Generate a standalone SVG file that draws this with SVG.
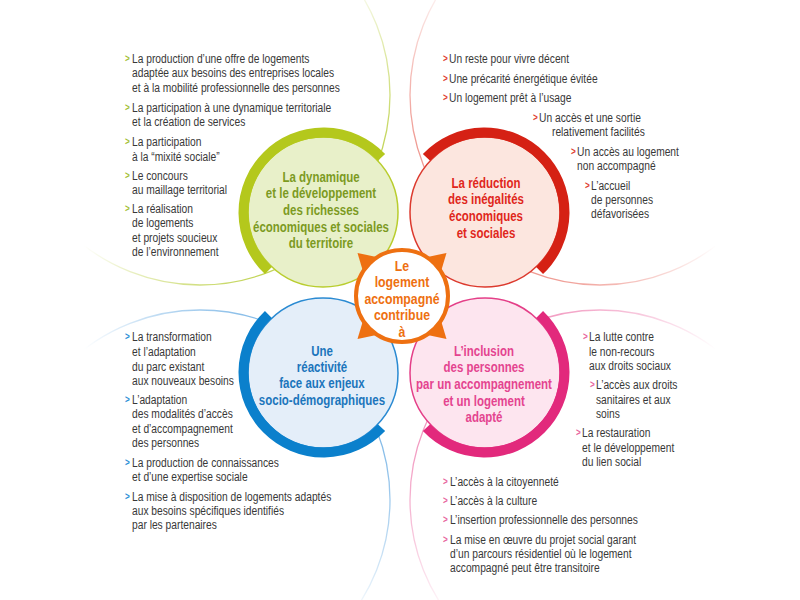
<svg xmlns="http://www.w3.org/2000/svg" width="800" height="600" viewBox="0 0 800 600">
<defs>
<style>
text{font-family:"Liberation Sans",Arial,sans-serif}
.t{font-size:12.5px;fill:#383838}
.b{font-size:10px;font-weight:bold}
.h{font-size:14px;font-weight:bold;text-anchor:middle}
.c{font-size:15px;font-weight:bold;text-anchor:middle;fill:#ee7011}
.petal{fill:none;stroke-width:1.3}
.thin{stroke-width:1.5}
.thick{fill:none;stroke-width:10}
</style>
<linearGradient id="gG" gradientUnits="userSpaceOnUse" x1="400" y1="297" x2="216" y2="113"><stop offset="0.45" stop-color="#c3d55a" stop-opacity="1"/><stop offset="1" stop-color="#c3d55a" stop-opacity="0"/></linearGradient>
<linearGradient id="gR" gradientUnits="userSpaceOnUse" x1="400" y1="297" x2="584" y2="113"><stop offset="0.45" stop-color="#ef9a92" stop-opacity="1"/><stop offset="1" stop-color="#ef9a92" stop-opacity="0"/></linearGradient>
<linearGradient id="gB" gradientUnits="userSpaceOnUse" x1="400" y1="297" x2="216" y2="481"><stop offset="0.45" stop-color="#86bce8" stop-opacity="1"/><stop offset="1" stop-color="#86bce8" stop-opacity="0"/></linearGradient>
<linearGradient id="gP" gradientUnits="userSpaceOnUse" x1="400" y1="297" x2="584" y2="481"><stop offset="0.45" stop-color="#f29cc2" stop-opacity="1"/><stop offset="1" stop-color="#f29cc2" stop-opacity="0"/></linearGradient>
</defs>
<rect width="800" height="600" fill="#ffffff"/>

<g id="petals">
<circle class="petal" cx="200" cy="95" r="190" stroke="url(#gG)"/>
<circle class="petal" cx="600" cy="95" r="190" stroke="url(#gR)"/>
<circle class="petal" cx="200" cy="500" r="190" stroke="url(#gB)"/>
<circle class="petal" cx="600" cy="500" r="190" stroke="url(#gP)"/>
</g>

<g id="green">
<circle cx="323" cy="212" r="75" fill="#e8f0c9" stroke="#b9cd2e" class="thin"/>
<path class="thick" stroke="#b4c81c" d="M268.4 270.5 A80 80 0 1 1 381.5 157.4"/>
<g transform="scale(0.82,1)">
<g fill="#7c9a1f">
<text class="h" x="391.46" y="182">La dynamique</text>
<text class="h" x="391.46" y="198">et le développement</text>
<text class="h" x="391.46" y="215">des richesses</text>
<text class="h" x="391.46" y="232">économiques et sociales</text>
<text class="h" x="391.46" y="248">du territoire</text>
</g>
<g fill="#a3bf35">
<text class="b" x="152.44" y="62">&gt;</text>
<text class="b" x="152.44" y="111">&gt;</text>
<text class="b" x="152.44" y="145">&gt;</text>
<text class="b" x="152.44" y="179">&gt;</text>
<text class="b" x="152.44" y="212">&gt;</text>
</g>
<text class="t" x="160.98" y="63">La production d’une offre de logements</text>
<text class="t" x="160.98" y="77">adaptée aux besoins des entreprises locales</text>
<text class="t" x="160.98" y="92">et à la mobilité professionnelle des personnes</text>
<text class="t" x="160.98" y="112">La participation à une dynamique territoriale</text>
<text class="t" x="160.98" y="126">et la création de services</text>
<text class="t" x="160.98" y="146">La participation</text>
<text class="t" x="160.98" y="161">à la “mixité sociale”</text>
<text class="t" x="160.98" y="180">Le concours</text>
<text class="t" x="160.98" y="194">au maillage territorial</text>
<text class="t" x="160.98" y="213">La réalisation</text>
<text class="t" x="160.98" y="227">de logements</text>
<text class="t" x="160.98" y="242">et projets soucieux</text>
<text class="t" x="160.98" y="256">de l’environnement</text>
</g>
</g>

<g id="red">
<circle cx="485" cy="212" r="75" fill="#fce6df" stroke="#dc3a2e" class="thin"/>
<path class="thick" stroke="#d52114" d="M426.5 157.4 A80 80 0 1 1 539.6 270.5"/>
<g transform="scale(0.82,1)">
<g fill="#e0261b">
<text class="h" x="592.68" y="188">La réduction</text>
<text class="h" x="592.68" y="204">des inégalités</text>
<text class="h" x="592.68" y="221">économiques</text>
<text class="h" x="592.68" y="238">et sociales</text>
</g>
<g fill="#e03b2f">
<text class="b" x="540.24" y="62">&gt;</text>
<text class="b" x="540.24" y="82">&gt;</text>
<text class="b" x="540.24" y="101">&gt;</text>
<text class="b" x="650" y="121">&gt;</text>
<text class="b" x="696.34" y="155">&gt;</text>
<text class="b" x="713.41" y="189">&gt;</text>
</g>
<text class="t" x="547.56" y="63">Un reste pour vivre décent</text>
<text class="t" x="547.56" y="83">Une précarité énergétique évitée</text>
<text class="t" x="547.56" y="102">Un logement prêt à l’usage</text>
<text class="t" x="657.32" y="122">Un accès et une sortie</text>
<text class="t" x="673.17" y="136">relativement facilités</text>
<text class="t" x="703.66" y="156">Un accès au logement</text>
<text class="t" x="703.66" y="170">non accompagné</text>
<text class="t" x="720.73" y="190">L’accueil</text>
<text class="t" x="720.73" y="204">de personnes</text>
<text class="t" x="720.73" y="218">défavorisées</text>
</g>
</g>

<g id="blue">
<circle cx="323" cy="373" r="75" fill="#e4eef9" stroke="#2a8ad2" class="thin"/>
<path class="thick" stroke="#0b80cc" d="M381.5 427.6 A80 80 0 1 1 268.4 314.5"/>
<g transform="scale(0.82,1)">
<g fill="#1b75bc">
<text class="h" x="392.68" y="356">Une</text>
<text class="h" x="392.68" y="372">réactivité</text>
<text class="h" x="392.68" y="388">face aux enjeux</text>
<text class="h" x="392.68" y="405">socio-démographiques</text>
</g>
<g fill="#2a8fd6">
<text class="b" x="152.44" y="340">&gt;</text>
<text class="b" x="152.44" y="403">&gt;</text>
<text class="b" x="152.44" y="466">&gt;</text>
<text class="b" x="152.44" y="500">&gt;</text>
</g>
<text class="t" x="160.98" y="341">La transformation</text>
<text class="t" x="160.98" y="356">et l’adaptation</text>
<text class="t" x="160.98" y="371">du parc existant</text>
<text class="t" x="160.98" y="385">aux nouveaux besoins</text>
<text class="t" x="160.98" y="404">L’adaptation</text>
<text class="t" x="160.98" y="418">des modalités d’accès</text>
<text class="t" x="160.98" y="433">et d’accompagnement</text>
<text class="t" x="160.98" y="447">des personnes</text>
<text class="t" x="160.98" y="467">La production de connaissances</text>
<text class="t" x="160.98" y="481">et d’une expertise sociale</text>
<text class="t" x="160.98" y="501">La mise à disposition de logements adaptés</text>
<text class="t" x="160.98" y="515">aux besoins spécifiques identifiés</text>
<text class="t" x="160.98" y="529">par les partenaires</text>
</g>
</g>

<g id="pink">
<circle cx="485" cy="373" r="75" fill="#fde5ef" stroke="#e43f88" class="thin"/>
<path class="thick" stroke="#e2297c" d="M539.6 314.5 A80 80 0 1 1 426.5 427.6"/>
<g transform="scale(0.82,1)">
<g fill="#e4448f">
<text class="h" x="590.24" y="356">L’inclusion</text>
<text class="h" x="590.24" y="372">des personnes</text>
<text class="h" x="590.24" y="389">par un accompagnement</text>
<text class="h" x="590.24" y="406">et un logement</text>
<text class="h" x="590.24" y="422">adapté</text>
</g>
<g fill="#e8649d">
<text class="b" x="710.98" y="340">&gt;</text>
<text class="b" x="719.51" y="388">&gt;</text>
<text class="b" x="702.44" y="436">&gt;</text>
<text class="b" x="540.24" y="485">&gt;</text>
<text class="b" x="540.24" y="504">&gt;</text>
<text class="b" x="540.24" y="523">&gt;</text>
<text class="b" x="540.24" y="543">&gt;</text>
</g>
<text class="t" x="718.29" y="341">La lutte contre</text>
<text class="t" x="718.29" y="356">le non-recours</text>
<text class="t" x="718.29" y="370">aux droits sociaux</text>
<text class="t" x="726.83" y="389">L’accès aux droits</text>
<text class="t" x="726.83" y="404">sanitaires et aux</text>
<text class="t" x="726.83" y="418">soins</text>
<text class="t" x="709.76" y="437">La restauration</text>
<text class="t" x="709.76" y="452">et le développement</text>
<text class="t" x="709.76" y="466">du lien social</text>
<text class="t" x="548.78" y="486">L’accès à la citoyenneté</text>
<text class="t" x="548.78" y="505">L’accès à la culture</text>
<text class="t" x="548.78" y="524">L’insertion professionnelle des personnes</text>
<text class="t" x="548.78" y="544">La mise en œuvre du projet social garant</text>
<text class="t" x="548.78" y="558">d’un parcours résidentiel où le logement</text>
<text class="t" x="548.78" y="572">accompagné peut être transitoire</text>
</g>
</g>

<g id="center">
<g fill="#ee7011">
<polygon points="357.5,253 363.4,272.8 378.8,257.4"/>
<polygon points="446.5,253 440.6,272.8 425.2,257.4"/>
<polygon points="357.5,339 363.4,319.2 378.8,334.6"/>
<polygon points="446.5,339 440.6,319.2 425.2,334.6"/>
</g>
<circle cx="402" cy="296" r="46" fill="#ffffff" stroke="#ee7011" stroke-width="4"/>
<g transform="scale(0.82,1)">
<text class="c" x="490.24" y="271">Le</text>
<text class="c" x="490.24" y="287.5">logement</text>
<text class="c" x="490.24" y="304">accompagné</text>
<text class="c" x="490.24" y="320.5">contribue</text>
<text class="c" x="490.24" y="337">à</text>
</g>
</g>
</svg>
